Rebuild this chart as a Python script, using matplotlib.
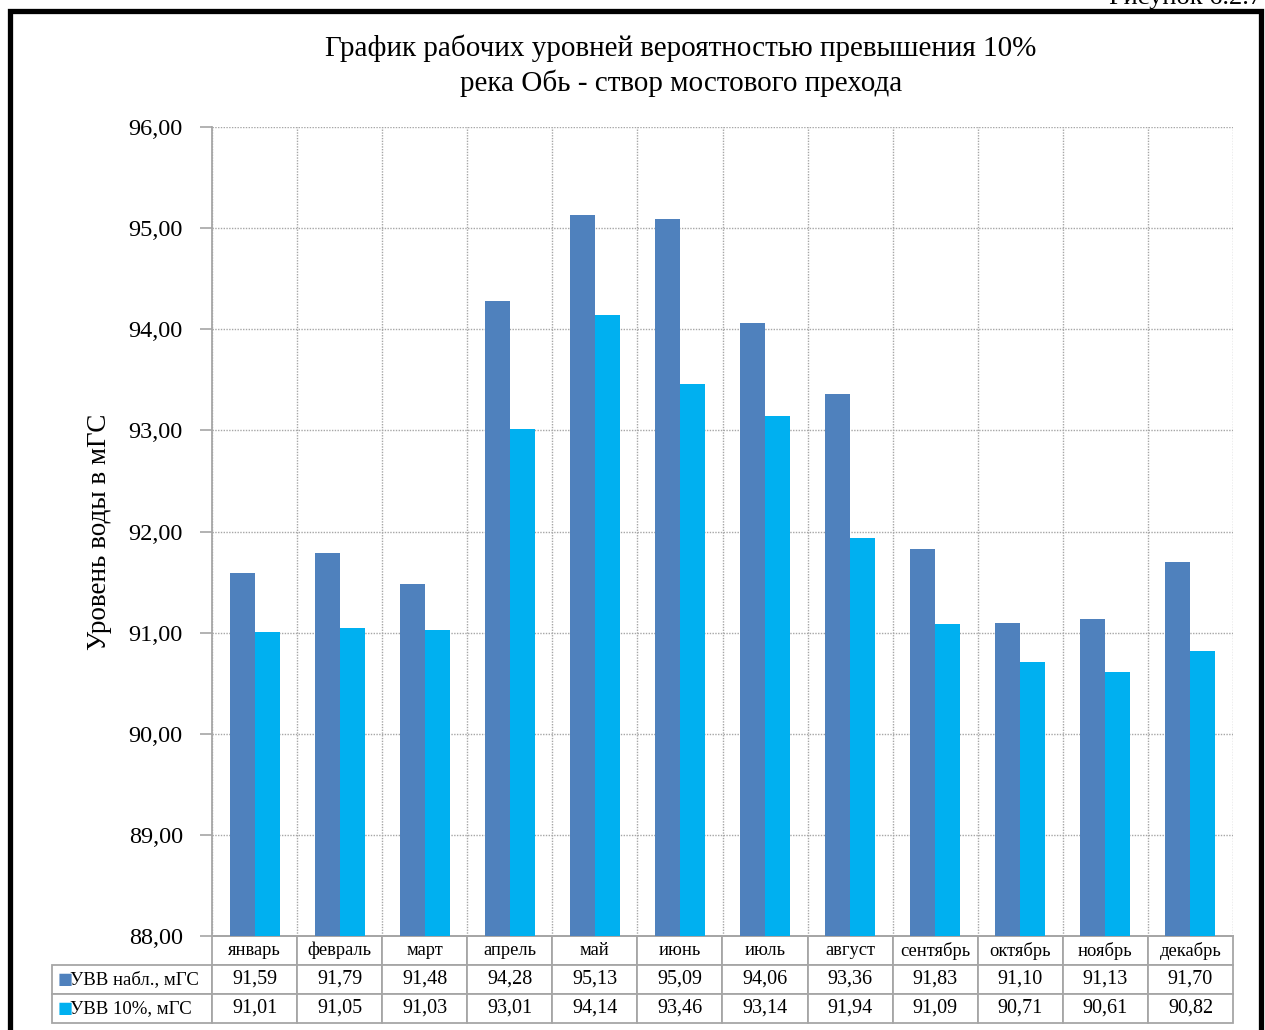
import matplotlib
matplotlib.use("Agg")
import matplotlib.pyplot as plt
from matplotlib.table import Table
from matplotlib.patches import Rectangle
import numpy as np

months = ["январь", "февраль", "март", "апрель", "май", "июнь", "июль",
          "август", "сентябрь", "октябрь", "ноябрь", "декабрь"]
uvv_obs = [91.59, 91.79, 91.48, 94.28, 95.13, 95.09, 94.06, 93.36, 91.83, 91.10, 91.13, 91.70]
uvv_10 = [91.01, 91.05, 91.03, 93.01, 94.14, 93.46, 93.14, 91.94, 91.09, 90.71, 90.61, 90.82]
series_names = ["УВВ набл., мГС", "УВВ 10%, мГС"]
yticks = [88, 89, 90, 91, 92, 93, 94, 95, 96]
title_lines = ["График рабочих уровней вероятностью превышения 10%",
               "река Обь - створ мостового прехода"]
ylabel = "Уровень воды в мГС"

C1 = "#4F81BD"
C2 = "#00B0F0"
GRID = "#A6A6A6"
SERIF = "Liberation Serif"

W, H = 1265, 1030
fig = plt.figure(figsize=(W / 100, H / 100), dpi=100)

# frame
fig.patches.append(Rectangle((10 / W, -0.1), (1261 - 10) / W, 1.1 - 11 / H,
                             transform=fig.transFigure, fill=False,
                             edgecolor="black", linewidth=3.8))
fig.text(1262 / W, 1 - 4 / H, "Рисунок 6.2.7", ha="right", va="baseline",
         fontsize=19, family=SERIF)

ax_l, ax_r, ax_t, ax_b = 212, 1233, 127, 936
ax = fig.add_axes([ax_l / W, 1 - ax_b / H, (ax_r - ax_l) / W, (ax_b - ax_t) / H])

x = np.arange(len(months))
bw = 0.294
ax.bar(x - bw / 2, np.array(uvv_obs) - 88, bw, bottom=88, color=C1, zorder=3)
ax.bar(x + bw / 2, np.array(uvv_10) - 88, bw, bottom=88, color=C2, zorder=3)

ax.set_xlim(-0.5, len(months) - 0.5)
ax.set_ylim(88, 96)
ax.set_yticks(yticks)
ax.set_yticklabels([f"{v:.2f}".replace(".", ",") for v in yticks],
                   family=SERIF, fontsize=17.5)
ax.tick_params(axis="y", direction="out", length=9, width=1.2, color=GRID, pad=12)
ax.set_xticks([])
ax.set_xticks(np.arange(-0.5, len(months)), minor=True)
ax.tick_params(axis="x", which="both", length=0, labelbottom=False)
ax.grid(axis="y", which="major", linestyle=(0, (1, 1)), color=GRID, linewidth=1.0, zorder=0)
ax.grid(axis="x", which="minor", linestyle=(0, (1, 1)), color=GRID, linewidth=1.0, zorder=0)
for s in ["top", "right"]:
    ax.spines[s].set_visible(False)
for s in ["left", "bottom"]:
    ax.spines[s].set_color(GRID)
    ax.spines[s].set_linewidth(1.3)
ax.set_ylabel(ylabel, family=SERIF, fontsize=19.5, labelpad=12)

# data table below axes
axw = ax_r - ax_l
axh = ax_b - ax_t
tbl_left = 52
row_h = 29
tbl = Table(ax, bbox=[(tbl_left - ax_l) / axw, -3 * row_h / axh,
                      (ax_r - tbl_left) / axw, 3 * row_h / axh])
lab_w = (ax_l - tbl_left) / axw
col_w = 1.0 / len(months)
rows = [months,
        [f"{v:.2f}".replace(".", ",") for v in uvv_obs],
        [f"{v:.2f}".replace(".", ",") for v in uvv_10]]
row_labels = ["", series_names[0], series_names[1]]
for r in range(3):
    c = tbl.add_cell(r, 0, lab_w, 1, text=row_labels[r], loc="left")
    c.set_edgecolor(GRID if r > 0 else "none")
    c.set_linewidth(1.3)
    c.get_text().set_fontfamily(SERIF)
    c.get_text().set_fontsize(13.5)
    c.PAD = 0.11
    for j in range(len(months)):
        c = tbl.add_cell(r, j + 1, col_w, 1, text=rows[r][j], loc="center")
        c.set_edgecolor(GRID)
        c.set_linewidth(1.3)
        c.get_text().set_fontfamily(SERIF)
        c.get_text().set_fontsize(14.5 if r > 0 else 13.3)
tbl.auto_set_font_size(False)
ax.add_table(tbl)

# legend keys in table
for r, col in zip([1, 2], [C1, C2]):
    yc = -(r + 0.5) * row_h / axh
    ax.text((58 - ax_l) / axw, yc, "■", color=col, fontsize=11.5, ha="left",
            va="center", transform=ax.transAxes, family="DejaVu Sans", clip_on=False)

# title
fig.text(681 / W, 1 - 48 / H, title_lines[0], ha="center", va="center",
         fontsize=21, family=SERIF)
fig.text(681 / W, 1 - 83 / H, title_lines[1], ha="center", va="center",
         fontsize=21, family=SERIF)

fig.savefig("out.png", dpi=100)
